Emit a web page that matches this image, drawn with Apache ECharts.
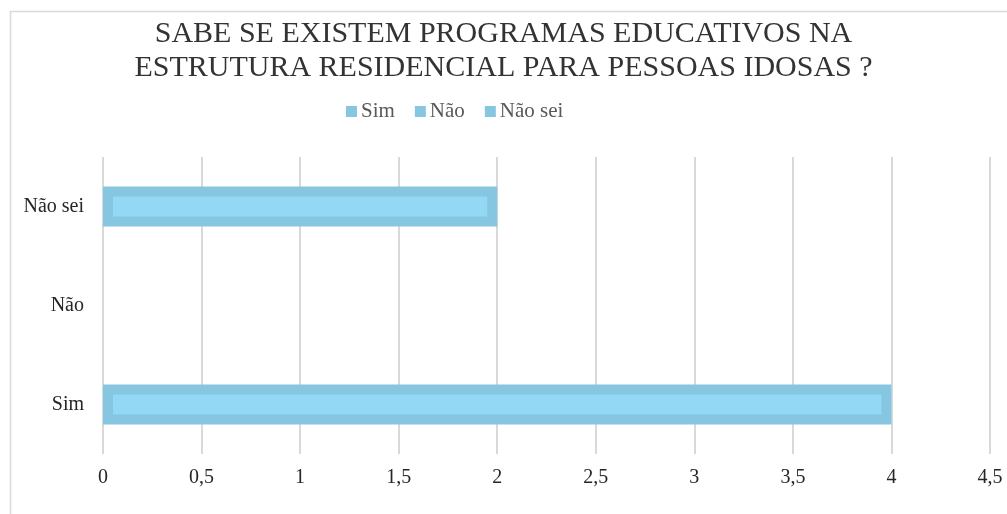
<!DOCTYPE html>
<html>
<head>
<meta charset="utf-8">
<script src="https://cdn.jsdelivr.net/npm/echarts@6/dist/echarts.min.js"></script>
<style>
  html, body { margin: 0; padding: 0; background: #fff; }
  #chart { width: 1007px; height: 514px; }
</style>
</head>
<body>
<div id="chart"></div>
<script>
// categories from bottom to top, as drawn
var categories = ['Sim', 'Não', 'Não sei']
var values = [4, 0, 2]
var xTicks = { min: 0, max: 4.5, interval: 0.5 }

var serif = 'Liberation Serif'
var chart = echarts.init(document.getElementById('chart'))

var series = categories.map(function (name, i) {
  return {
    name: name,
    type: 'bar',
    stack: 'total',
    barWidth: 40,
    itemStyle: {
      color: '#93d9f5',
      borderColor: '#86c6e0',
      borderWidth: 10
    },
    data: categories.map(function (c, j) {
      if (j !== i) return '-'
      // a zero bar should not show its border
      return values[i] === 0 ? { value: 0, itemStyle: { borderWidth: 0 } } : values[i]
    })
  }
})

chart.setOption({
  animation: false,
  title: {
    text: 'SABE SE EXISTEM PROGRAMAS EDUCATIVOS NA\nESTRUTURA RESIDENCIAL PARA PESSOAS IDOSAS ?',
    left: 'center',
    top: 12,
    textStyle: {
      fontFamily: serif,
      fontSize: 30,
      fontWeight: 'normal',
      color: '#333',
      lineHeight: 34
    }
  },
  legend: {
    data: categories,
    top: 96,
    left: 341,
    icon: 'rect',
    itemWidth: 11,
    itemHeight: 11,
    itemGap: 20,
    itemStyle: { color: '#86c6e0', borderWidth: 0 },
    textStyle: { fontFamily: serif, fontSize: 21, color: '#595959', padding: [0, 0, 0, -1] }
  },
  grid: { left: 103, right: 17, top: 157, bottom: 60 },
  xAxis: {
    type: 'value',
    min: xTicks.min,
    max: xTicks.max,
    interval: xTicks.interval,
    axisLine: { show: false },
    axisTick: { show: false },
    splitLine: { lineStyle: { color: '#d9d9d9', width: 2 } },
    axisLabel: {
      margin: 14,
      fontFamily: serif,
      fontSize: 20,
      color: '#262626',
      formatter: function (v) { return String(v).replace('.', ',') }
    }
  },
  yAxis: {
    type: 'category',
    data: categories,
    axisLine: { show: false },
    axisTick: { show: false },
    axisLabel: { margin: 19, fontFamily: serif, fontSize: 20, color: '#262626' }
  },
  graphic: [{
    type: 'rect',
    shape: { x: 10.5, y: 11.5, width: 1100, height: 600 },
    style: { fill: 'none', stroke: '#d9d9d9', lineWidth: 1.5 },
    silent: true,
    z: -1
  }],
  series: series
})
</script>
</body>
</html>
